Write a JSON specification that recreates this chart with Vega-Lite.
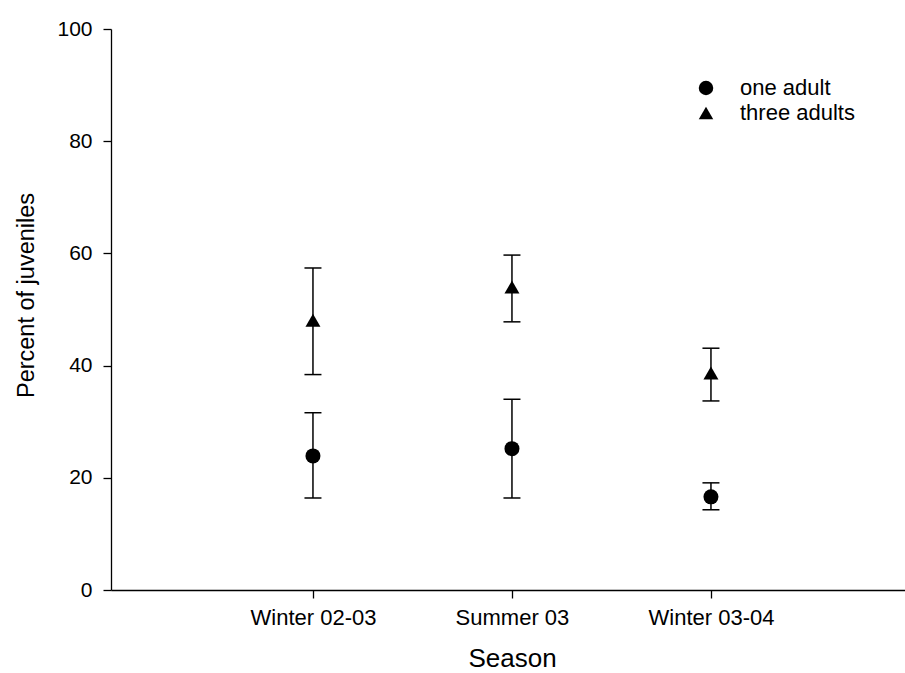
{
  "$schema": "https://vega.github.io/schema/vega-lite/v6.json",
  "autosize": {"type": "none"},
  "padding": {"left": 111, "top": 29, "right": 0, "bottom": 83},
  "width": 794,
  "height": 561,
  "background": "white",
  "config": {
    "view": {"stroke": null},
    "font": "Liberation Sans",
    "axis": {
      "domainColor": "black",
      "domainWidth": 1.3,
      "tickColor": "black",
      "tickWidth": 1.3,
      "tickSize": 8,
      "labelColor": "black",
      "titleColor": "black",
      "labelFont": "Liberation Sans",
      "titleFont": "Liberation Sans",
      "labelFontSize": 21,
      "titleFontSize": 24,
      "titleFontWeight": "normal",
      "grid": false
    }
  },
  "data": {
    "values": [
      {"season": "Winter 02-03", "group": "one adult", "mean": 23.9, "lo": 16.4, "hi": 31.6},
      {"season": "Summer 03", "group": "one adult", "mean": 25.2, "lo": 16.4, "hi": 34.0},
      {"season": "Winter 03-04", "group": "one adult", "mean": 16.6, "lo": 14.3, "hi": 19.1},
      {"season": "Winter 02-03", "group": "three adults", "mean": 48.1, "lo": 38.4, "hi": 57.4},
      {"season": "Summer 03", "group": "three adults", "mean": 54.0, "lo": 47.8, "hi": 59.7},
      {"season": "Winter 03-04", "group": "three adults", "mean": 38.7, "lo": 33.7, "hi": 43.1}
    ]
  },
  "encoding": {
    "x": {
      "field": "season",
      "type": "ordinal",
      "sort": ["Winter 02-03", "Summer 03", "Winter 03-04"],
      "scale": {"type": "point", "padding": 0.995, "align": 0.51},
      "axis": {
        "title": "Season",
        "labelAngle": 0,
        "labelFontSize": 22,
        "labelPadding": 9,
        "titleFontSize": 26,
        "titleX": 401,
        "titleY": 76,
        "titleAlign": "center",
        "titleBaseline": "alphabetic"
      }
    }
  },
  "layer": [
    {
      "mark": {"type": "rule", "color": "black", "strokeWidth": 1.5},
      "encoding": {
        "y": {
          "field": "lo",
          "type": "quantitative",
          "scale": {"domain": [0, 100], "nice": false},
          "axis": {
            "title": "Percent of juveniles",
            "values": [0, 20, 40, 60, 80, 100],
            "labelPadding": 11,
            "titleFontSize": 23.5,
            "titleX": -78,
            "titleY": 266,
            "titleAngle": -90,
            "titleAlign": "center",
            "titleBaseline": "alphabetic"
          }
        },
        "y2": {"field": "hi"}
      }
    },
    {
      "mark": {"type": "tick", "color": "black", "size": 17, "thickness": 1.5, "opacity": 1},
      "encoding": {"y": {"field": "lo", "type": "quantitative"}}
    },
    {
      "mark": {"type": "tick", "color": "black", "size": 17, "thickness": 1.5, "opacity": 1},
      "encoding": {"y": {"field": "hi", "type": "quantitative"}}
    },
    {
      "mark": {"type": "point", "filled": true, "color": "black", "opacity": 1, "size": 225},
      "encoding": {
        "y": {"field": "mean", "type": "quantitative"},
        "shape": {
          "field": "group",
          "type": "nominal",
          "scale": {"domain": ["one adult", "three adults"], "range": ["circle", "triangle-up"]},
          "legend": {
            "title": null,
            "orient": "none",
            "legendX": 584,
            "legendY": 48,
            "padding": 0,
            "symbolSize": 210,
            "symbolFillColor": "black",
            "symbolStrokeWidth": 0,
            "labelFontSize": 22,
            "labelFont": "Liberation Sans",
            "labelColor": "black",
            "labelOffset": 23,
            "rowPadding": 3
          }
        }
      }
    }
  ]
}
